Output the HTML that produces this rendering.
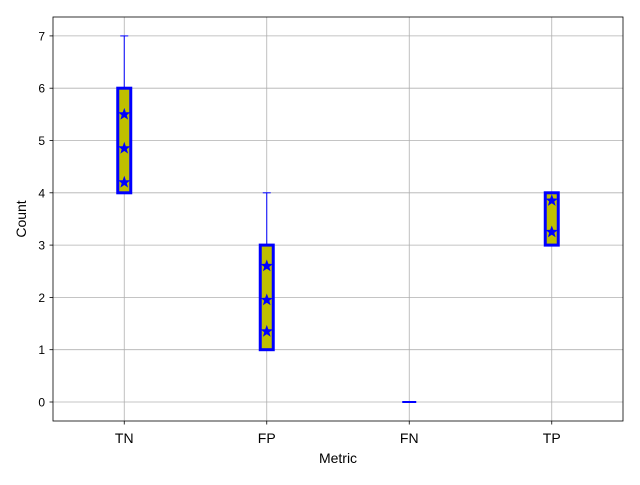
<!DOCTYPE html>
<html><head><meta charset="utf-8"><style>
body{margin:0;background:#fff}
svg text{font-family:"Liberation Sans","DejaVu Sans",sans-serif}
</style></head><body>
<svg id="c" width="640" height="480"></svg>
<script>
const categories=["TN","FP","FN","TP"];
const q1=[4,1,0,3];
const q3=[6,3,0,4];
const whiskLo=[4,1,0,3];
const whiskHi=[7,4,0,4];
const stars=[[4.2,4.85,5.5],[1.35,1.95,2.6],[],[3.25,3.85]];
const yTicks=[0,1,2,3,4,5,6,7];
const NS="http://www.w3.org/2000/svg";
const svg=document.getElementById('c');
const L=53,R=623,T=17,B=421;
const y=v=>402-v*52.3;
const x=i=>L+(R-L)*(i+0.5)/categories.length;
function el(t,a,p){const e=document.createElementNS(NS,t);for(const k in a)e.setAttribute(k,a[k]);(p||svg).appendChild(e);return e;}
const g=el('g',{});


yTicks.forEach(v=>{
  el('line',{x1:L,x2:R,y1:y(v),y2:y(v),stroke:'#b0b0b0','stroke-width':0.8},g);
  el('line',{x1:L-3.5,x2:L,y1:y(v),y2:y(v),stroke:'#000','stroke-width':0.8});
  const t=el('text',{x:L-8,y:y(v)+4.5,'text-anchor':'end','font-size':12});t.textContent=v;
  
  
});
categories.forEach((c,i)=>{
  el('line',{x1:x(i),x2:x(i),y1:T,y2:B,stroke:'#b0b0b0','stroke-width':0.8},g);
  el('line',{x1:x(i),x2:x(i),y1:B,y2:B+3.5,stroke:'#000','stroke-width':0.8});
  const t=el('text',{x:x(i),y:B+22,'text-anchor':'middle','font-size':14});t.textContent=c;
  
  
});
categories.forEach((c,i)=>{
  const grp=el('g',{});
  
  
  const cx=x(i);
  el('line',{x1:cx,x2:cx,y1:y(q3[i]),y2:y(whiskHi[i]),stroke:'#00f','stroke-width':1},grp);
  el('line',{x1:cx-4,x2:cx+4,y1:y(whiskHi[i]),y2:y(whiskHi[i]),stroke:'#00f','stroke-width':1},grp);
  el('line',{x1:cx,x2:cx,y1:y(q1[i]),y2:y(whiskLo[i]),stroke:'#00f','stroke-width':1},grp);
  el('line',{x1:cx-4,x2:cx+4,y1:y(whiskLo[i]),y2:y(whiskLo[i]),stroke:'#00f','stroke-width':1},grp);
  const h=y(q1[i])-y(q3[i]);
  if(h>0) el('rect',{x:cx-6.5,y:y(q3[i]),width:13,height:h,fill:'#bfbf00',stroke:'#00f','stroke-width':3},grp);
  else el('line',{x1:cx-7,x2:cx+7,y1:y(q1[i]),y2:y(q1[i]),stroke:'#00f','stroke-width':2},grp);
  stars[i].forEach(v=>{
    const pts=[];for(let k=0;k<10;k++){const r=k%2?2.7:6.5,a=-Math.PI/2+k*Math.PI/5;pts.push((cx+r*Math.cos(a)).toFixed(1)+','+(y(v)+r*Math.sin(a)).toFixed(1));}
    const s=el('polygon',{points:pts.join(' '),fill:'#00f'},grp);
    
    
  });
});
const fr=el('rect',{x:L,y:T,width:R-L,height:B-T,fill:'none',stroke:'#000','stroke-width':0.8});


const xl=el('text',{x:(L+R)/2,y:463,'text-anchor':'middle','font-size':14});xl.textContent='Metric';


const yl=el('text',{x:0,y:0,'text-anchor':'middle','font-size':14,transform:'translate(26,219) rotate(-90)'});yl.textContent='Count';


</script>
</body></html>
